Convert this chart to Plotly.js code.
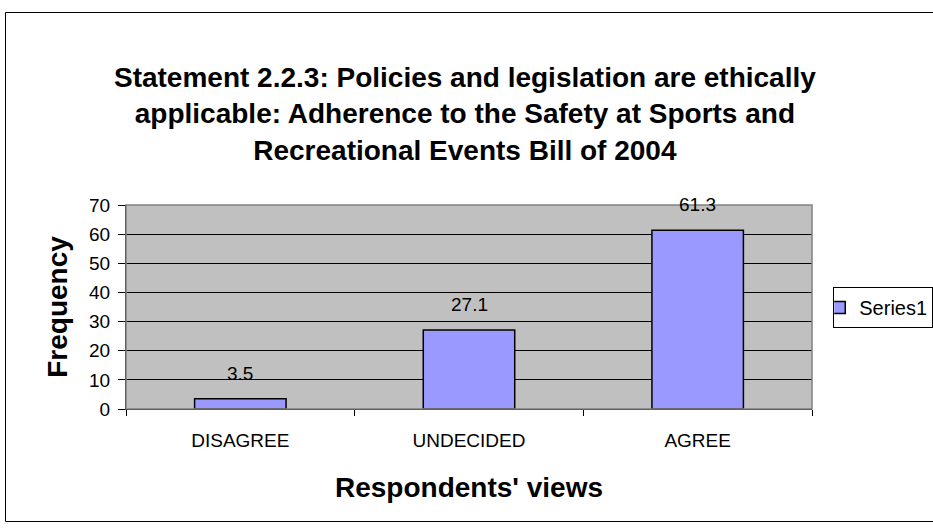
<!DOCTYPE html>
<html>
<head>
<meta charset="utf-8">
<script src="https://cdn.plot.ly/plotly-3.0.1.min.js"></script>
<style>
  html, body { margin: 0; padding: 0; background: #fff; overflow: hidden; }
  #chart { width: 933px; height: 531px; }
</style>
</head>
<body>
<div id="chart"></div>
<script>
// Responses per view
const categories = ['DISAGREE', 'UNDECIDED', 'AGREE'];
const values = [3.5, 27.1, 61.3];
const seriesName = 'Series1';
const yTicks = [0, 10, 20, 30, 40, 50, 60, 70];

const font = 'Liberation Sans, Arial, sans-serif';

const trace = {
  type: 'bar',
  x: categories,
  y: values,
  name: seriesName,
  showlegend: true,
  marker: { color: '#9999FF', line: { color: '#000', width: 1.5 } },
  hoverinfo: 'none'
};

// value labels above each bar
const labels = categories.map((c, i) => ({
  x: c, y: values[i], xref: 'x', yref: 'y',
  text: String(values[i]), showarrow: false,
  yanchor: 'bottom', yshift: 13,
  font: { family: font, size: 19, color: '#000' }
}));

const layout = {
  width: 933, height: 531,
  margin: { l: 126, r: 121, t: 205, b: 122, pad: 0, autoexpand: false },
  paper_bgcolor: '#fff',
  plot_bgcolor: '#C0C0C0',
  bargap: 0.6,
  font: { family: font, color: '#000' },
  title: {
    text: '<b>Statement 2.2.3: Policies and legislation are ethically<br>applicable: Adherence to the Safety at Sports and<br>Recreational Events Bill of 2004</b>',
    font: { family: font, size: 28, color: '#000' },
    x: 0.494, xref: 'paper', xanchor: 'center',
    y: 0.836, yref: 'container', yanchor: 'top'
  },
  xaxis: {
    type: 'category',
    tickson: 'boundaries',
    ticks: 'outside', ticklen: 6, tickcolor: '#000', tickwidth: 1,
    ticklabelstandoff: 14,
    showline: true, linecolor: '#000', linewidth: 1,
    showgrid: false, zeroline: false,
    tickfont: { family: font, size: 19, color: '#000' },
    title: { text: '<b>Respondents\' views</b>', font: { family: font, size: 28, color: '#000' }, standoff: 27 },
    automargin: false,
    fixedrange: true
  },
  yaxis: {
    range: [0, 70],
    tickvals: yTicks,
    ticks: 'outside', ticklen: 7, tickcolor: '#000', tickwidth: 1,
    ticklabelstandoff: 4,
    showline: true, linecolor: '#000', linewidth: 1,
    showgrid: true, gridcolor: '#000', gridwidth: 1,
    zeroline: false,
    tickfont: { family: font, size: 19, color: '#000' },
    title: { text: '<b>Frequency</b>', font: { family: font, size: 28, color: '#000' }, standoff: 13 },
    automargin: false,
    fixedrange: true
  },
  shapes: [
    // grey border of the plotting area
    {
      type: 'rect', xref: 'paper', yref: 'paper', x0: 0, x1: 1, y0: 0, y1: 1,
      line: { color: '#808080', width: 1.5 }, fillcolor: 'rgba(0,0,0,0)', layer: 'above'
    },
    // outer chart frame (runs past the right edge of the page)
    {
      type: 'rect', xref: 'paper', yref: 'paper',
      xsizemode: 'pixel', xanchor: 0, x0: -120.5, x1: 1000,
      ysizemode: 'pixel', yanchor: 0, y0: -112.5, y1: 396.5,
      line: { color: '#000', width: 1 }, fillcolor: 'rgba(0,0,0,0)', layer: 'below'
    }
  ],
  legend: {
    x: 1.031, xanchor: 'left', y: 0.598, yanchor: 'top',
    bgcolor: '#fff', bordercolor: '#000', borderwidth: 1,
    font: { family: font, size: 20, color: '#000' },
    itemwidth: 30,
    indentation: -15
  },
  annotations: labels
};

Plotly.newPlot('chart', [trace], layout, { displayModeBar: false, staticPlot: true });
</script>
</body>
</html>
